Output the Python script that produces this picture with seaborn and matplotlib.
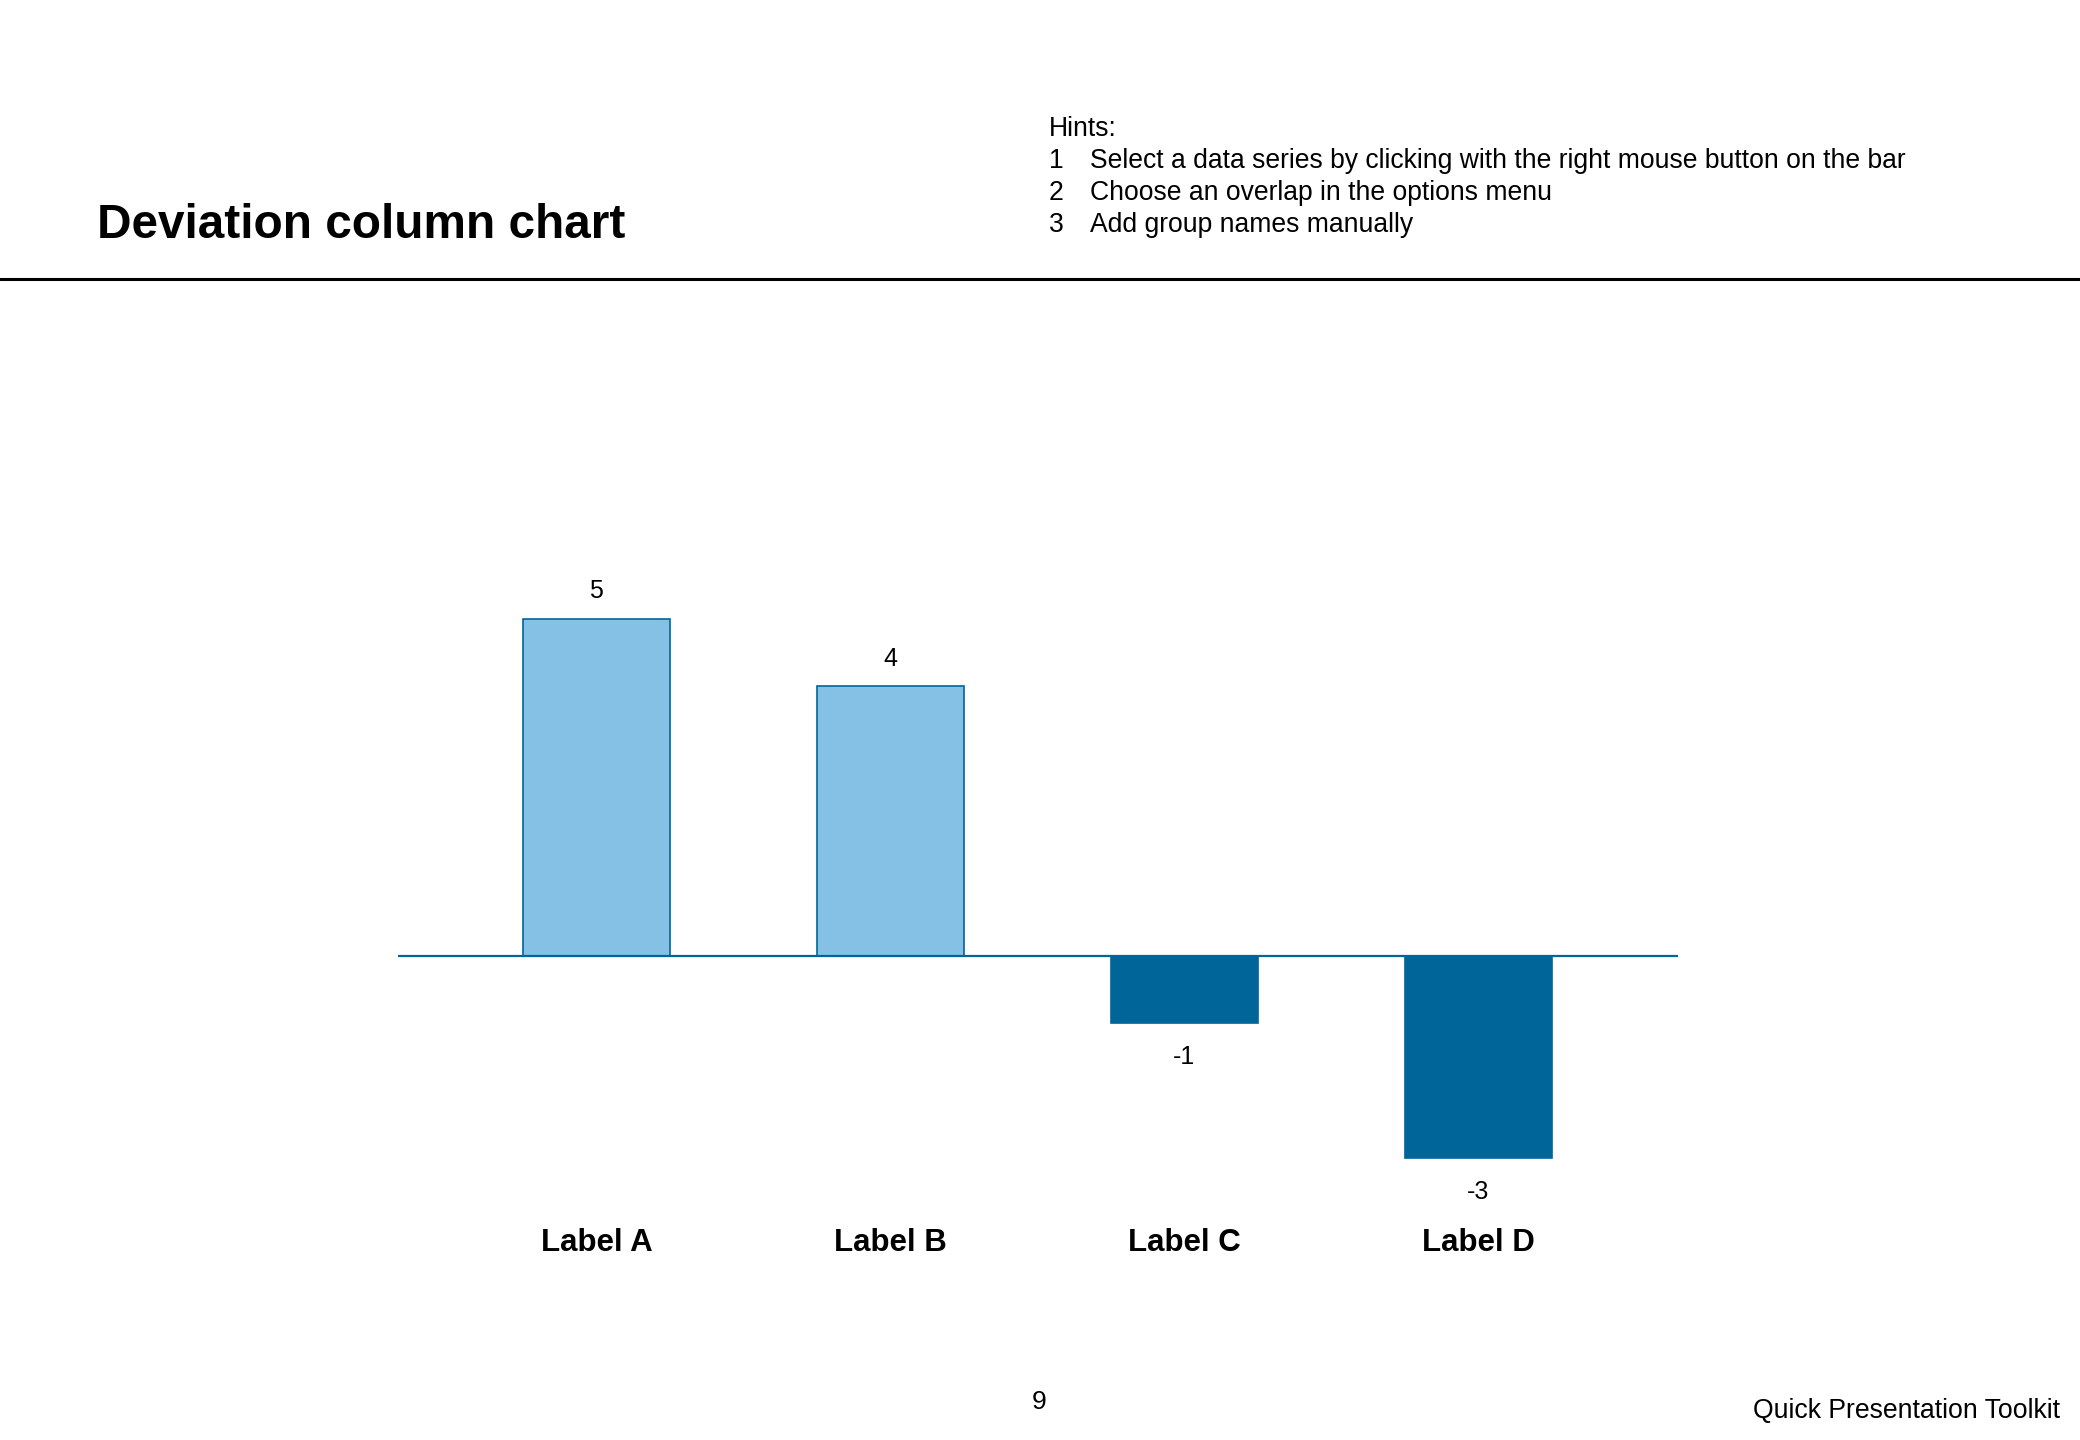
import matplotlib
matplotlib.use("Agg")
import matplotlib.pyplot as plt
import seaborn as sns
import pandas as pd
from matplotlib.lines import Line2D

# ---- data ----
categories = ["Label A", "Label B", "Label C", "Label D"]
values = [5, 4, -1, -3]
bar_colors = ["#85C1E5", "#85C1E5", "#006699", "#006699"]
title_text = "Deviation column chart"
hint_header = "Hints:"
hint_nums = ["1", "2", "3"]
hint_texts = ["Select a data series by clicking with the right mouse button on the bar",
              "Choose an overlap in the options menu",
              "Add group names manually"]
page_number = "9"
footer_text = "Quick Presentation Toolkit"

sns.set_theme(style="white")
plt.rcParams["font.family"] = ["Liberation Sans", "DejaVu Sans"]

W, H = 2080, 1440
fig = plt.figure(figsize=(W / 100, H / 100), dpi=100)

def fx(px):
    return px / W

def fy(py):
    return 1 - py / H

# axes placement (pixels)
ax_left, ax_right = 398, 1678
unit = 67.4
baseline_y = 956
ymin, ymax = -4, 6
ax_bottom_px = baseline_y - ymin * unit
ax_top_px = baseline_y - ymax * unit
ax = fig.add_axes([fx(ax_left), fy(ax_bottom_px), fx(ax_right) - fx(ax_left),
                   (ax_bottom_px - ax_top_px) / H])

df = pd.DataFrame({"cat": categories, "val": values})
sns.barplot(data=df, x="cat", y="val", hue="cat", palette=bar_colors,
            width=0.5, edgecolor="#006699", linewidth=1.2, legend=False,
            ax=ax, saturation=1)

ax.set_xlim(-0.675, 3.68)
ax.set_ylim(ymin, ymax)
ax.axhline(0, color="#006699", lw=1.6, zorder=5)
for s in ax.spines.values():
    s.set_visible(False)
ax.set_yticks([])
ax.set_xlabel("")
ax.set_ylabel("")
ax.tick_params(axis="x", length=0, pad=1.5)
ax.set_xticks(range(len(categories)))
ax.set_xticklabels(categories, fontsize=22.5, fontweight="bold", color="black")

for i, v in enumerate(values):
    if v >= 0:
        ax.annotate(str(v), (i, v), xytext=(0, 15), textcoords="offset points",
                    ha="center", va="baseline", fontsize=18, color="black")
    else:
        ax.annotate(str(v), (i, v), xytext=(0, -29.5), textcoords="offset points",
                    ha="center", va="baseline", fontsize=18, color="black")

# title
fig.text(fx(97), fy(237.5), title_text, fontsize=34.4, fontweight="bold",
         ha="left", va="baseline", color="black")

# hints
fig.text(fx(1049), fy(136.5), hint_header, fontsize=19.1, ha="left", va="baseline", color="black")
for k, (n, t) in enumerate(zip(hint_nums, hint_texts)):
    yb = 168.5 + 32 * k
    fig.text(fx(1049), fy(yb), n, fontsize=19.1, ha="left", va="baseline", color="black")
    fig.text(fx(1090), fy(yb), t, fontsize=19.1, ha="left", va="baseline", color="black")

# rule
fig.add_artist(Line2D([0, 1], [fy(279), fy(279)], color="black", lw=2.2,
                      transform=fig.transFigure))

# footer
fig.text(fx(1039), fy(1409), page_number, fontsize=19, ha="center", va="baseline", color="black")
fig.text(fx(2060), fy(1418), footer_text, fontsize=19.2, ha="right", va="baseline", color="black")

fig.savefig("out.png", dpi=100, facecolor="white")
